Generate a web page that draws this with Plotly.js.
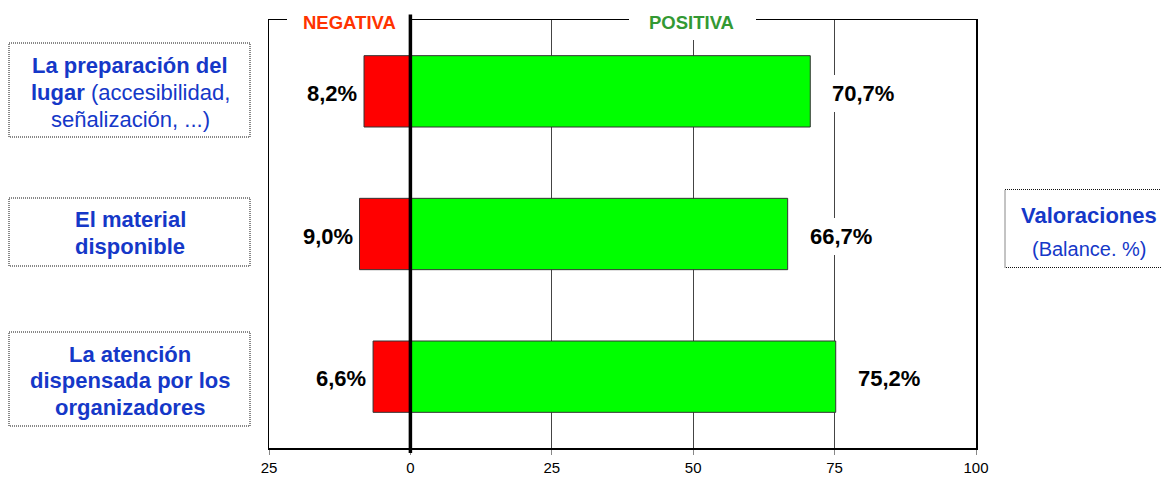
<!DOCTYPE html>
<html>
<head>
<meta charset="utf-8">
<script src="https://cdn.plot.ly/plotly-3.0.1.min.js"></script>
<style>
  html, body { margin: 0; padding: 0; background: #fff; }
  #chart { width: 1161px; height: 477px; }
</style>
</head>
<body>
<div id="chart"></div>
<script>
// ---- data ----
var categories = ['La preparación del lugar', 'El material disponible', 'La atención dispensada por los organizadores'];
var negativa = [8.2, 9.0, 6.6];
var positiva = [70.7, 66.7, 75.2];
var tickVals = [-25, 0, 25, 50, 75, 100];
var tickText = ['25', '0', '25', '50', '75', '100'];
var boxLines = [
  ['<b>La preparación del</b>', '<b>lugar</b> (accesibilidad,', 'señalización, ...)'],
  ['<b>El material</b>', '<b>disponible</b>'],
  ['<b>La atención</b>', '<b>dispensada por los</b>', '<b>organizadores</b>']
];
var legendTitle = 'Valoraciones';
var legendSub = '(Balance. %)';
var negLabel = 'NEGATIVA';
var posLabel = 'POSITIVA';

// ---- layout helpers (pixel -> paper) ----
var W = 1161, H = 477;
var M = {l: 269, r: 185, t: 20, b: 29};
var PW = W - M.l - M.r, PH = H - M.t - M.b;
function px(x) { return (x - M.l) / PW; }
function py(y) { return 1 - (y - M.t) / PH; }

var FONT = 'Liberation Sans, Arial, sans-serif';
var BLUE = '#1538C8';

function fmt(v) { return v.toFixed(1).replace('.', ',') + '%'; }

var traces = [
  {
    type: 'bar', orientation: 'h', y: categories,
    x: negativa.map(function (v) { return -v; }),
    width: 0.5,
    marker: {color: '#FF0000', line: {color: '#333333', width: 1}},
    hoverinfo: 'skip'
  },
  {
    type: 'bar', orientation: 'h', y: categories,
    x: positiva,
    width: 0.5,
    marker: {color: '#00FF00', line: {color: '#333333', width: 1}},
    hoverinfo: 'skip'
  }
];

var annotations = [];
var shapes = [];

// value labels
categories.forEach(function (c, i) {
  annotations.push({
    x: -negativa[i], y: c, xref: 'x', yref: 'y',
    text: '<b>' + fmt(negativa[i]) + '</b>',
    showarrow: false, xanchor: 'right', yanchor: 'middle', xshift: -5, yshift: -2,
    font: {family: FONT, size: 22, color: '#000'}
  });
  annotations.push({
    x: positiva[i], y: c, xref: 'x', yref: 'y',
    text: '<b>' + fmt(positiva[i]) + '</b>',
    showarrow: false, xanchor: 'left', yanchor: 'middle', xshift: 16, yshift: -2,
    bgcolor: '#FFFFFF', borderpad: 6, borderwidth: 0,
    font: {family: FONT, size: 22, color: '#000'}
  });
});

// left dotted boxes
var boxes = [[9, 43, 250, 137], [9, 198, 250, 266], [9, 332, 250, 426]];
var lineY = [[65, 92.5, 119], [219.5, 246.5], [354, 380.5, 407]];
boxes.forEach(function (b, i) {
  shapes.push({
    type: 'rect', xref: 'paper', yref: 'paper',
    x0: px(b[0]), x1: px(b[2]), y0: py(b[1]), y1: py(b[3]),
    line: {color: '#111', width: 1, dash: '1px,1px'}, fillcolor: 'rgba(0,0,0,0)'
  });
  boxLines[i].forEach(function (t, j) {
    annotations.push({
      x: px(130), y: py(lineY[i][j]), xref: 'paper', yref: 'paper',
      text: t, showarrow: false, xanchor: 'center', yanchor: 'middle',
      font: {family: FONT, size: 22, color: BLUE}
    });
  });
});

// right box
shapes.push({
  type: 'rect', xref: 'paper', yref: 'paper',
  x0: px(1005), x1: px(1168), y0: py(189.5), y1: py(267.5),
  line: {color: '#111', width: 1, dash: '1px,1px'}, fillcolor: 'rgba(0,0,0,0)'
});
annotations.push({
  x: px(1088.5), y: py(216), xref: 'paper', yref: 'paper',
  text: '<b>' + legendTitle + '</b>', showarrow: false, xanchor: 'center', yanchor: 'middle',
  font: {family: FONT, size: 22, color: BLUE}
});
annotations.push({
  x: px(1089), y: py(249), xref: 'paper', yref: 'paper',
  text: legendSub, showarrow: false, xanchor: 'center', yanchor: 'middle',
  font: {family: FONT, size: 20, color: BLUE}
});

// white gaps in top border for NEGATIVA / POSITIVA
shapes.push({
  type: 'rect', xref: 'paper', yref: 'paper', layer: 'above',
  x0: px(287), x1: px(409), y0: py(40), y1: py(2),
  line: {width: 0}, fillcolor: '#FFFFFF'
});
shapes.push({
  type: 'rect', xref: 'paper', yref: 'paper', layer: 'above',
  x0: px(629), x1: px(756), y0: py(40), y1: py(2),
  line: {width: 0}, fillcolor: '#FFFFFF'
});
annotations.push({
  x: px(349.5), y: py(23), xref: 'paper', yref: 'paper',
  text: '<b>' + negLabel + '</b>', showarrow: false, xanchor: 'center', yanchor: 'middle',
  font: {family: FONT, size: 18.5, color: '#FF3300'}
});
annotations.push({
  x: px(691.5), y: py(23), xref: 'paper', yref: 'paper',
  text: '<b>' + posLabel + '</b>', showarrow: false, xanchor: 'center', yanchor: 'middle',
  font: {family: FONT, size: 18.5, color: '#339933'}
});

// thick zero line extending beyond plot
shapes.push({
  type: 'line', xref: 'x', yref: 'paper', layer: 'above',
  x0: 0, x1: 0, y0: py(453), y1: py(14.5),
  line: {color: '#000', width: 3.5}
});

var layout = {
  width: W, height: H,
  margin: M,
  paper_bgcolor: '#fff', plot_bgcolor: '#fff',
  showlegend: false,
  barmode: 'relative',
  font: {family: FONT, color: '#000'},
  xaxis: {
    range: [-25, 100], tickvals: tickVals, ticktext: tickText,
    showgrid: true, gridcolor: '#444', gridwidth: 1,
    zeroline: false,
    showline: true, linecolor: '#000', linewidth: 1.5, mirror: true,
    ticks: 'outside', ticklen: 5, tickcolor: '#888', tickwidth: 1,
    tickfont: {family: FONT, size: 15, color: '#000'},
    fixedrange: true
  },
  yaxis: {
    range: [2.5, -0.5], type: 'category',
    showticklabels: false, ticks: '', showgrid: false, zeroline: false,
    showline: true, linecolor: '#000', linewidth: 1.5, mirror: true,
    fixedrange: true
  },
  annotations: annotations,
  shapes: shapes
};

Plotly.newPlot('chart', traces, layout, {staticPlot: true, displayModeBar: false});
</script>
</body>
</html>
